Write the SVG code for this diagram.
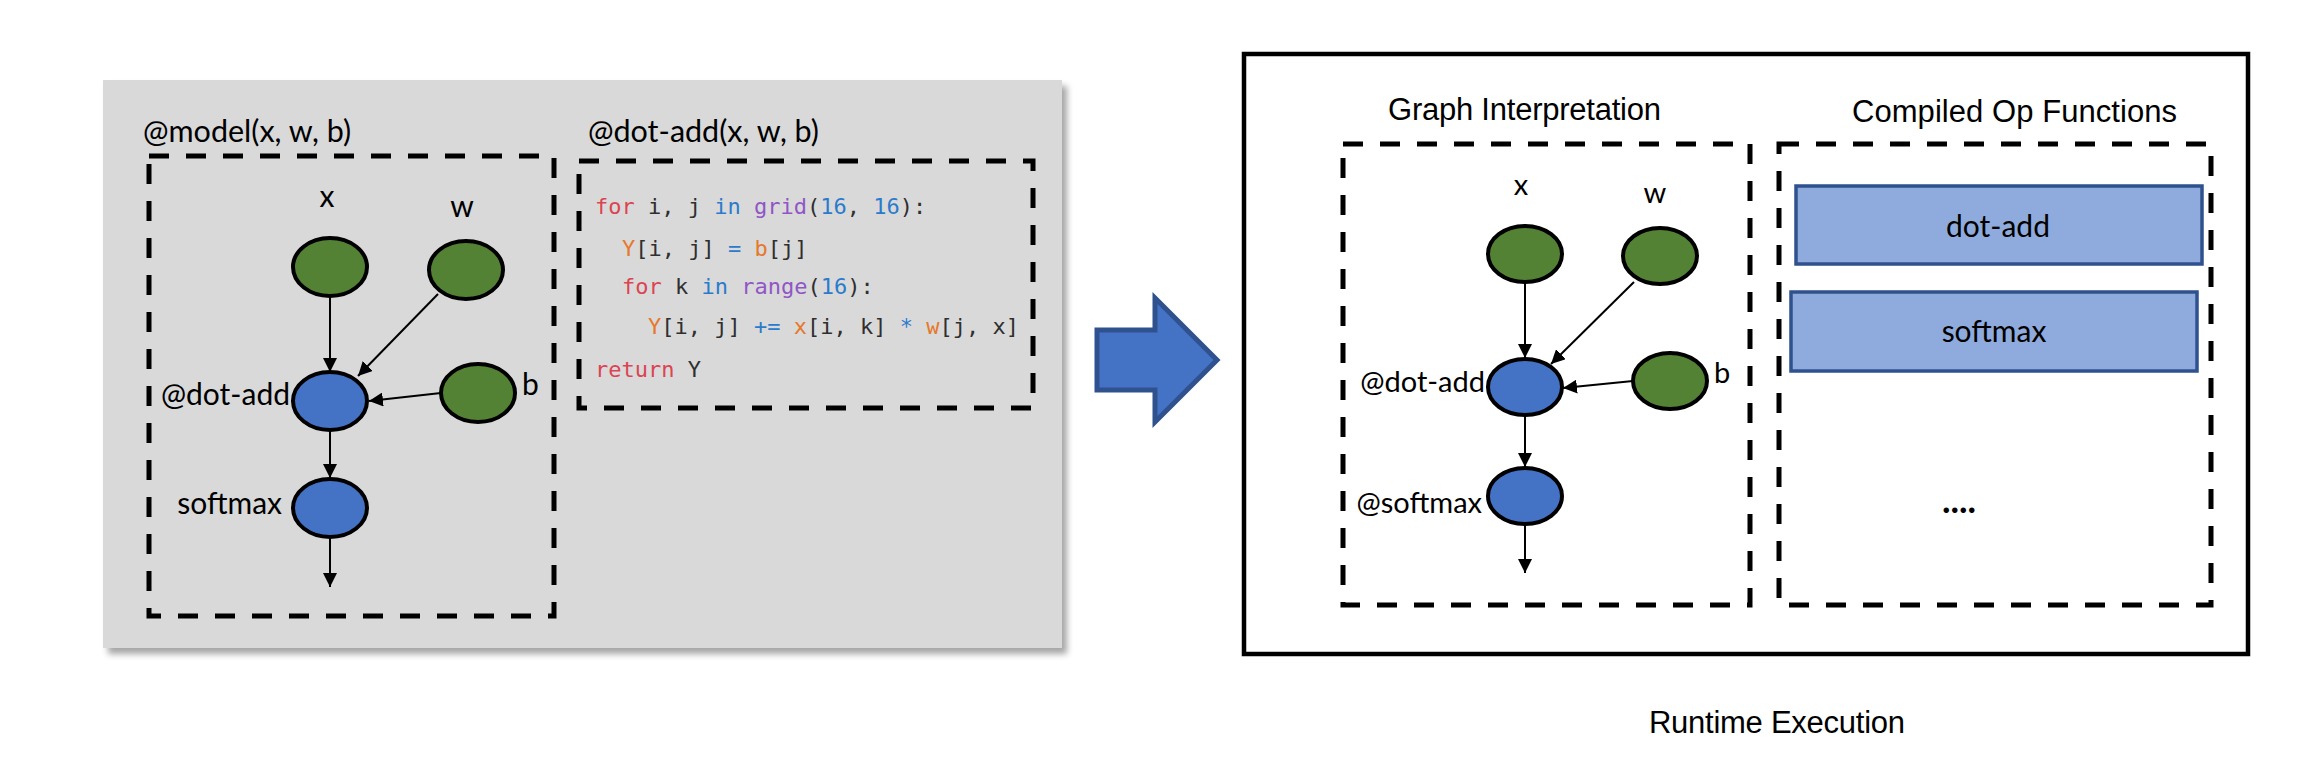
<svg xmlns="http://www.w3.org/2000/svg" width="2314" height="779" viewBox="0 0 2314 779">
<style>
.cal{font-family:Lato,"Open Sans","Liberation Sans",sans-serif;fill:#000}
.hel{font-family:"Liberation Sans",Arial,sans-serif;fill:#000;font-size:31px}
.code{font-family:"DejaVu Sans Mono","Liberation Mono",monospace;font-size:22px;fill:#2f2f2f}
.r{fill:#dc4452}.b{fill:#2b7bcc}.p{fill:#9056c7}.o{fill:#e6782a}
.dash{fill:none;stroke:#000;stroke-width:5;stroke-dasharray:20 17}
.in{fill:#548235;stroke:#000;stroke-width:4}
.op{fill:#4472c4;stroke:#000;stroke-width:4}
.edge{stroke:#000;stroke-width:2;fill:none;marker-end:url(#ah)}
.fn{fill:#8faadc;stroke:#2f528f;stroke-width:3.5}
</style>
<defs>
<marker id="ah" markerUnits="userSpaceOnUse" markerWidth="14" markerHeight="14" refX="14" refY="7" orient="auto">
<path d="M0,0 L14,7 L0,14 z" fill="#000"/>
</marker>
<filter id="sh" x="-5%" y="-5%" width="112%" height="115%">
<feDropShadow dx="5" dy="6" stdDeviation="3" flood-color="#000" flood-opacity="0.35"/>
</filter>
</defs>
<rect width="2314" height="779" fill="#fff"/>

<g id="left-panel">
<rect x="103" y="80" width="959" height="568" fill="#d9d9d9" filter="url(#sh)"/>
<text class="cal" x="143" y="142" font-size="30.5">@model(x, w, b)</text>
<rect class="dash" x="149" y="156" width="405" height="460"/>
<text class="cal" x="588" y="142" font-size="30.5">@dot-add(x, w, b)</text>
<rect class="dash" x="579" y="161" width="454" height="247"/>
</g>

<g id="code" class="code" xml:space="preserve">
<text x="595" y="214"><tspan class="r">for</tspan> i, j <tspan class="b">in</tspan> <tspan class="p">grid</tspan>(<tspan class="b">16</tspan>, <tspan class="b">16</tspan>):</text>
<text x="622" y="256"><tspan class="o">Y</tspan>[i, j] <tspan class="b">=</tspan> <tspan class="o">b</tspan>[j]</text>
<text x="622" y="294"><tspan class="r">for</tspan> k <tspan class="b">in</tspan> <tspan class="p">range</tspan>(<tspan class="b">16</tspan>):</text>
<text x="648" y="334"><tspan class="o">Y</tspan>[i, j] <tspan class="b">+=</tspan> <tspan class="o">x</tspan>[i, k] <tspan class="b">*</tspan> <tspan class="o">w</tspan>[j, x]</text>
<text x="595" y="377"><tspan class="r">return</tspan> Y</text>
</g>

<g id="L-x"><ellipse class="in" cx="330" cy="267" rx="37" ry="29"/><text class="cal" x="327" y="207" font-size="30" text-anchor="middle">x</text></g>
<g id="L-w"><ellipse class="in" cx="466" cy="270" rx="37" ry="29"/><text class="cal" x="462" y="217" font-size="30" text-anchor="middle">w</text></g>
<g id="L-b"><ellipse class="in" cx="478" cy="393" rx="37" ry="29"/><text class="cal" x="522" y="395" font-size="30">b</text></g>
<g id="L-dotadd"><ellipse class="op" cx="330" cy="401" rx="37" ry="29"/><text class="cal" x="290" y="405" font-size="30" text-anchor="end">@dot-add</text></g>
<g id="L-softmax"><ellipse class="op" cx="330" cy="508" rx="37" ry="29"/><text class="cal" x="282" y="514" font-size="30" text-anchor="end">softmax</text></g>

<g id="big-arrow"><polygon points="1097,330 1155,330 1155,298 1217,360 1155,422 1155,390 1097,390" fill="#4472c4" stroke="#2f528f" stroke-width="5" stroke-linejoin="miter"/></g>

<g id="runtime">
<rect x="1244" y="54" width="1004" height="600" fill="none" stroke="#000" stroke-width="4.5"/>
<text class="hel" x="1388" y="120" textLength="273">Graph Interpretation</text>
<text class="hel" x="1852" y="122" textLength="325">Compiled Op Functions</text>
<rect class="dash" x="1343" y="144" width="407" height="461"/>
<rect class="dash" x="1779" y="144" width="432" height="461"/>
<text class="hel" x="1649" y="733" textLength="256">Runtime Execution</text>
</g>

<g id="R-x"><ellipse class="in" cx="1525" cy="254" rx="37" ry="28"/><text class="cal" x="1521" y="195" font-size="29" text-anchor="middle">x</text></g>
<g id="R-w"><ellipse class="in" cx="1660" cy="256" rx="37" ry="28"/><text class="cal" x="1655" y="203" font-size="29" text-anchor="middle">w</text></g>
<g id="R-b"><ellipse class="in" cx="1670" cy="381" rx="37" ry="28"/><text class="cal" x="1714" y="383" font-size="29">b</text></g>
<g id="R-dotadd"><ellipse class="op" cx="1525" cy="387" rx="37" ry="28"/><text class="cal" x="1485" y="392" font-size="29" text-anchor="end">@dot-add</text></g>
<g id="R-softmax"><ellipse class="op" cx="1525" cy="496" rx="37" ry="28"/><text class="cal" x="1482" y="513" font-size="29" text-anchor="end">@softmax</text></g>

<g id="fn-dotadd"><rect class="fn" x="1796" y="186" width="406" height="78"/><text class="cal" x="1998" y="237" font-size="30" text-anchor="middle">dot-add</text></g>
<g id="fn-softmax"><rect class="fn" x="1791" y="292" width="406" height="79"/><text class="cal" x="1994" y="342" font-size="30" text-anchor="middle">softmax</text></g>
<g id="fn-more"><text class="cal" x="1959" y="513" font-size="36" font-weight="bold" text-anchor="middle">....</text></g>

<g id="connectors">
<line class="edge" x1="330" y1="296" x2="330" y2="372"/>
<line class="edge" x1="438" y1="294" x2="358" y2="376"/>
<line class="edge" x1="441" y1="393" x2="369" y2="401"/>
<line class="edge" x1="330" y1="430" x2="330" y2="478"/>
<line class="edge" x1="330" y1="537" x2="330" y2="587"/>
<line class="edge" x1="1525" y1="282" x2="1525" y2="358"/>
<line class="edge" x1="1634" y1="282" x2="1551" y2="364"/>
<line class="edge" x1="1633" y1="381" x2="1563" y2="388"/>
<line class="edge" x1="1525" y1="415" x2="1525" y2="467"/>
<line class="edge" x1="1525" y1="524" x2="1525" y2="573"/>
</g>
</svg>
